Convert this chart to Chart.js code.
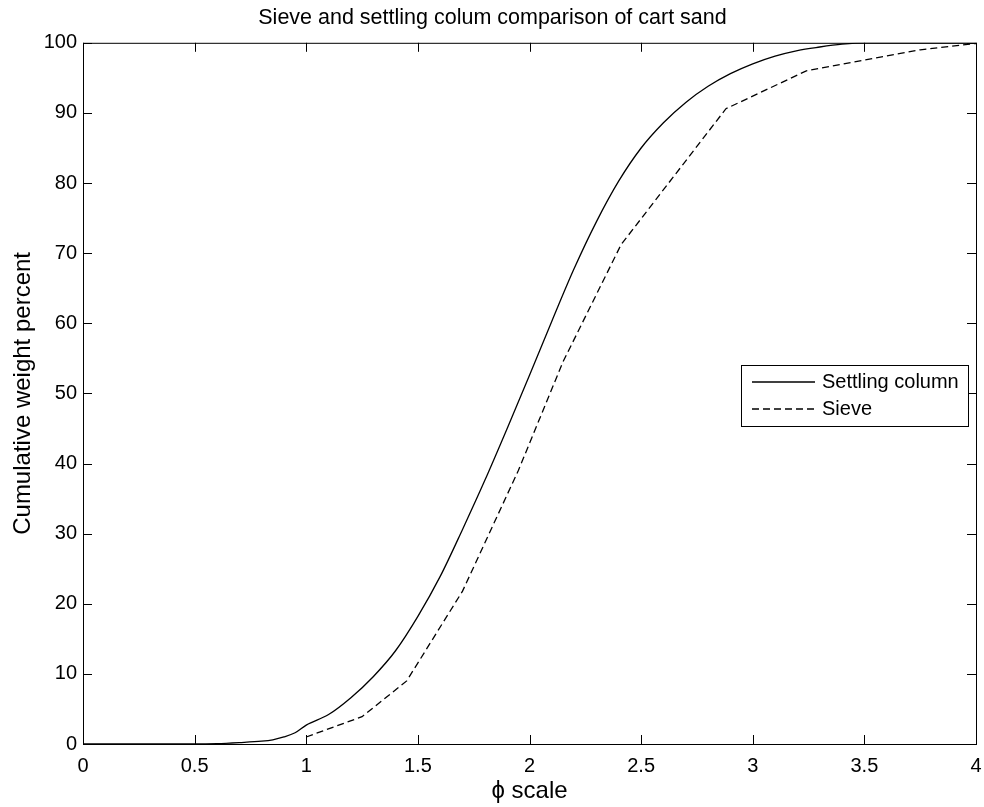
<!DOCTYPE html>
<html>
<head>
<meta charset="utf-8">
<title>Sieve and settling colum comparison of cart sand</title>
<script src="https://cdn.jsdelivr.net/npm/chart.js@4.4.1/dist/chart.umd.min.js"></script>
<style>
  html, body { margin: 0; padding: 0; background: #fff; }
  canvas { display: block; }
</style>
</head>
<body>
<canvas id="sandChart" width="984" height="807"></canvas>
<script>
// settling column curve (phi, cumulative %)
const settlingPhi = [0, 0.3, 0.5, 0.6, 0.7, 0.8, 0.85, 0.9, 0.95, 1.0, 1.1, 1.2, 1.3, 1.4, 1.5, 1.6, 1.7, 1.8, 1.9, 2.0,
  2.1, 2.2, 2.3, 2.4, 2.5, 2.6, 2.7, 2.8, 2.9, 3.0, 3.1, 3.2, 3.3, 3.4, 3.5, 4.0];
const settlingPct = [0, 0, 0, 0.05, 0.2, 0.4, 0.6, 1.0, 1.6, 2.7, 4.2, 6.6, 9.6, 13.3, 18.2, 23.9, 30.6, 37.6, 45.0, 52.6,
  60.3, 67.8, 74.5, 80.3, 85.0, 88.6, 91.5, 93.8, 95.6, 97.0, 98.1, 98.9, 99.4, 99.8, 100, 100];

// sieve curve
const sievePhi = [1.0, 1.25, 1.45, 1.7, 1.95, 2.15, 2.41, 2.88, 3.24, 3.75, 4.0];
const sievePct = [1.0, 3.9, 9.0, 21.8, 39.0, 54.5, 71.2, 90.6, 96.0, 99.0, 99.9];

const seriesNames = ['Settling column', 'Sieve'];
const xTicks = [0, 0.5, 1, 1.5, 2, 2.5, 3, 3.5, 4];
const yTicks = [0, 10, 20, 30, 40, 50, 60, 70, 80, 90, 100];

const FONT = '"Liberation Sans", Arial, Helvetica, sans-serif';
const toPoints = (xs, ys) => xs.map((x, i) => ({ x: x, y: ys[i] }));

// white page + box around the axes with inward ticks on all four sides
const frame = {
  id: 'frame',
  beforeDraw(chart) {
    const c = chart.ctx;
    c.save();
    c.fillStyle = '#fff';
    c.fillRect(0, 0, chart.width, chart.height);
    c.restore();
  },
  afterDatasetsDraw(chart) {
    const { ctx: c, chartArea: a, scales } = chart;
    const len = 9;
    c.save();
    c.strokeStyle = '#000';
    c.lineWidth = 1;
    c.strokeRect(a.left + 0.5, a.top + 0.5, a.right - a.left, a.bottom - a.top);
    c.beginPath();
    xTicks.forEach(v => {
      const px = Math.round(scales.x.getPixelForValue(v)) + 0.5;
      c.moveTo(px, a.bottom); c.lineTo(px, a.bottom - len);
      c.moveTo(px, a.top); c.lineTo(px, a.top + len);
    });
    yTicks.forEach(v => {
      const py = Math.round(scales.y.getPixelForValue(v)) + 0.5;
      c.moveTo(a.left, py); c.lineTo(a.left + len, py);
      c.moveTo(a.right, py); c.lineTo(a.right - len, py);
    });
    c.stroke();
    c.restore();
  }
};

// boxed legend sitting inside the axes, right side
const boxLegend = {
  id: 'boxLegend',
  afterDraw(chart) {
    const c = chart.ctx;
    const x0 = 741, y0 = 365, w = 227, h = 61;
    c.save();
    c.fillStyle = '#fff';
    c.fillRect(x0, y0, w, h);
    c.strokeStyle = '#000';
    c.lineWidth = 1;
    c.strokeRect(x0 + 0.5, y0 + 0.5, w, h);
    c.font = '20px ' + FONT;
    c.textBaseline = 'middle';
    chart.data.datasets.forEach((ds, i) => {
      const y = y0 + 17 + i * 27;
      c.beginPath();
      c.setLineDash(ds.borderDash || []);
      c.lineWidth = ds.borderWidth;
      c.moveTo(x0 + 11, y);
      c.lineTo(x0 + 74, y);
      c.stroke();
      c.setLineDash([]);
      c.fillStyle = '#000';
      c.fillText(ds.label, x0 + 81, y);
    });
    c.restore();
  }
};

new Chart(document.getElementById('sandChart'), {
  type: 'line',
  data: {
    datasets: [{
      label: seriesNames[0],
      data: toPoints(settlingPhi, settlingPct),
      borderColor: '#000',
      borderWidth: 1.3,
      pointRadius: 0,
      cubicInterpolationMode: 'monotone',
      fill: false
    }, {
      label: seriesNames[1],
      data: toPoints(sievePhi, sievePct),
      borderColor: '#000',
      borderWidth: 1.3,
      borderDash: [7, 4],
      pointRadius: 0,
      tension: 0,
      fill: false
    }]
  },
  options: {
    responsive: false,
    animation: false,
    layout: { padding: { left: 9, right: 8, top: 0, bottom: 0 } },
    plugins: {
      legend: { display: false },
      tooltip: { enabled: false },
      title: {
        display: true,
        text: 'Sieve and settling colum comparison of cart sand',
        color: '#000',
        font: { family: FONT, size: 21.5, weight: 'normal' },
        padding: { top: 5, bottom: 12 }
      }
    },
    scales: {
      x: {
        type: 'linear',
        min: 0,
        max: 4,
        grid: { display: false, drawTicks: false },
        border: { display: false },
        afterBuildTicks: s => { s.ticks = xTicks.map(v => ({ value: v })); },
        afterFit: s => { s.height = 63; s.paddingLeft = 0; s.paddingRight = 0; },
        ticks: {
          color: '#000', padding: 10, maxRotation: 0,
          font: { family: FONT, size: 20 },
          callback: v => String(v)
        },
        title: {
          display: true,
          text: 'ϕ scale',
          color: '#000',
          font: { family: FONT, size: 24 },
          padding: { top: 0, bottom: 1 }
        }
      },
      y: {
        min: 0,
        max: 100,
        grid: { display: false, drawTicks: false },
        border: { display: false },
        afterBuildTicks: s => { s.ticks = yTicks.map(v => ({ value: v })); },
        afterFit: s => { s.width = 74; s.paddingTop = 0; s.paddingBottom = 0; },
        ticks: { color: '#000', padding: 6, font: { family: FONT, size: 20 } },
        title: {
          display: true,
          text: 'Cumulative weight percent',
          color: '#000',
          font: { family: FONT, size: 24 },
          padding: { top: 0, bottom: 0 }
        }
      }
    }
  },
  plugins: [frame, boxLegend]
});
</script>
</body>
</html>
